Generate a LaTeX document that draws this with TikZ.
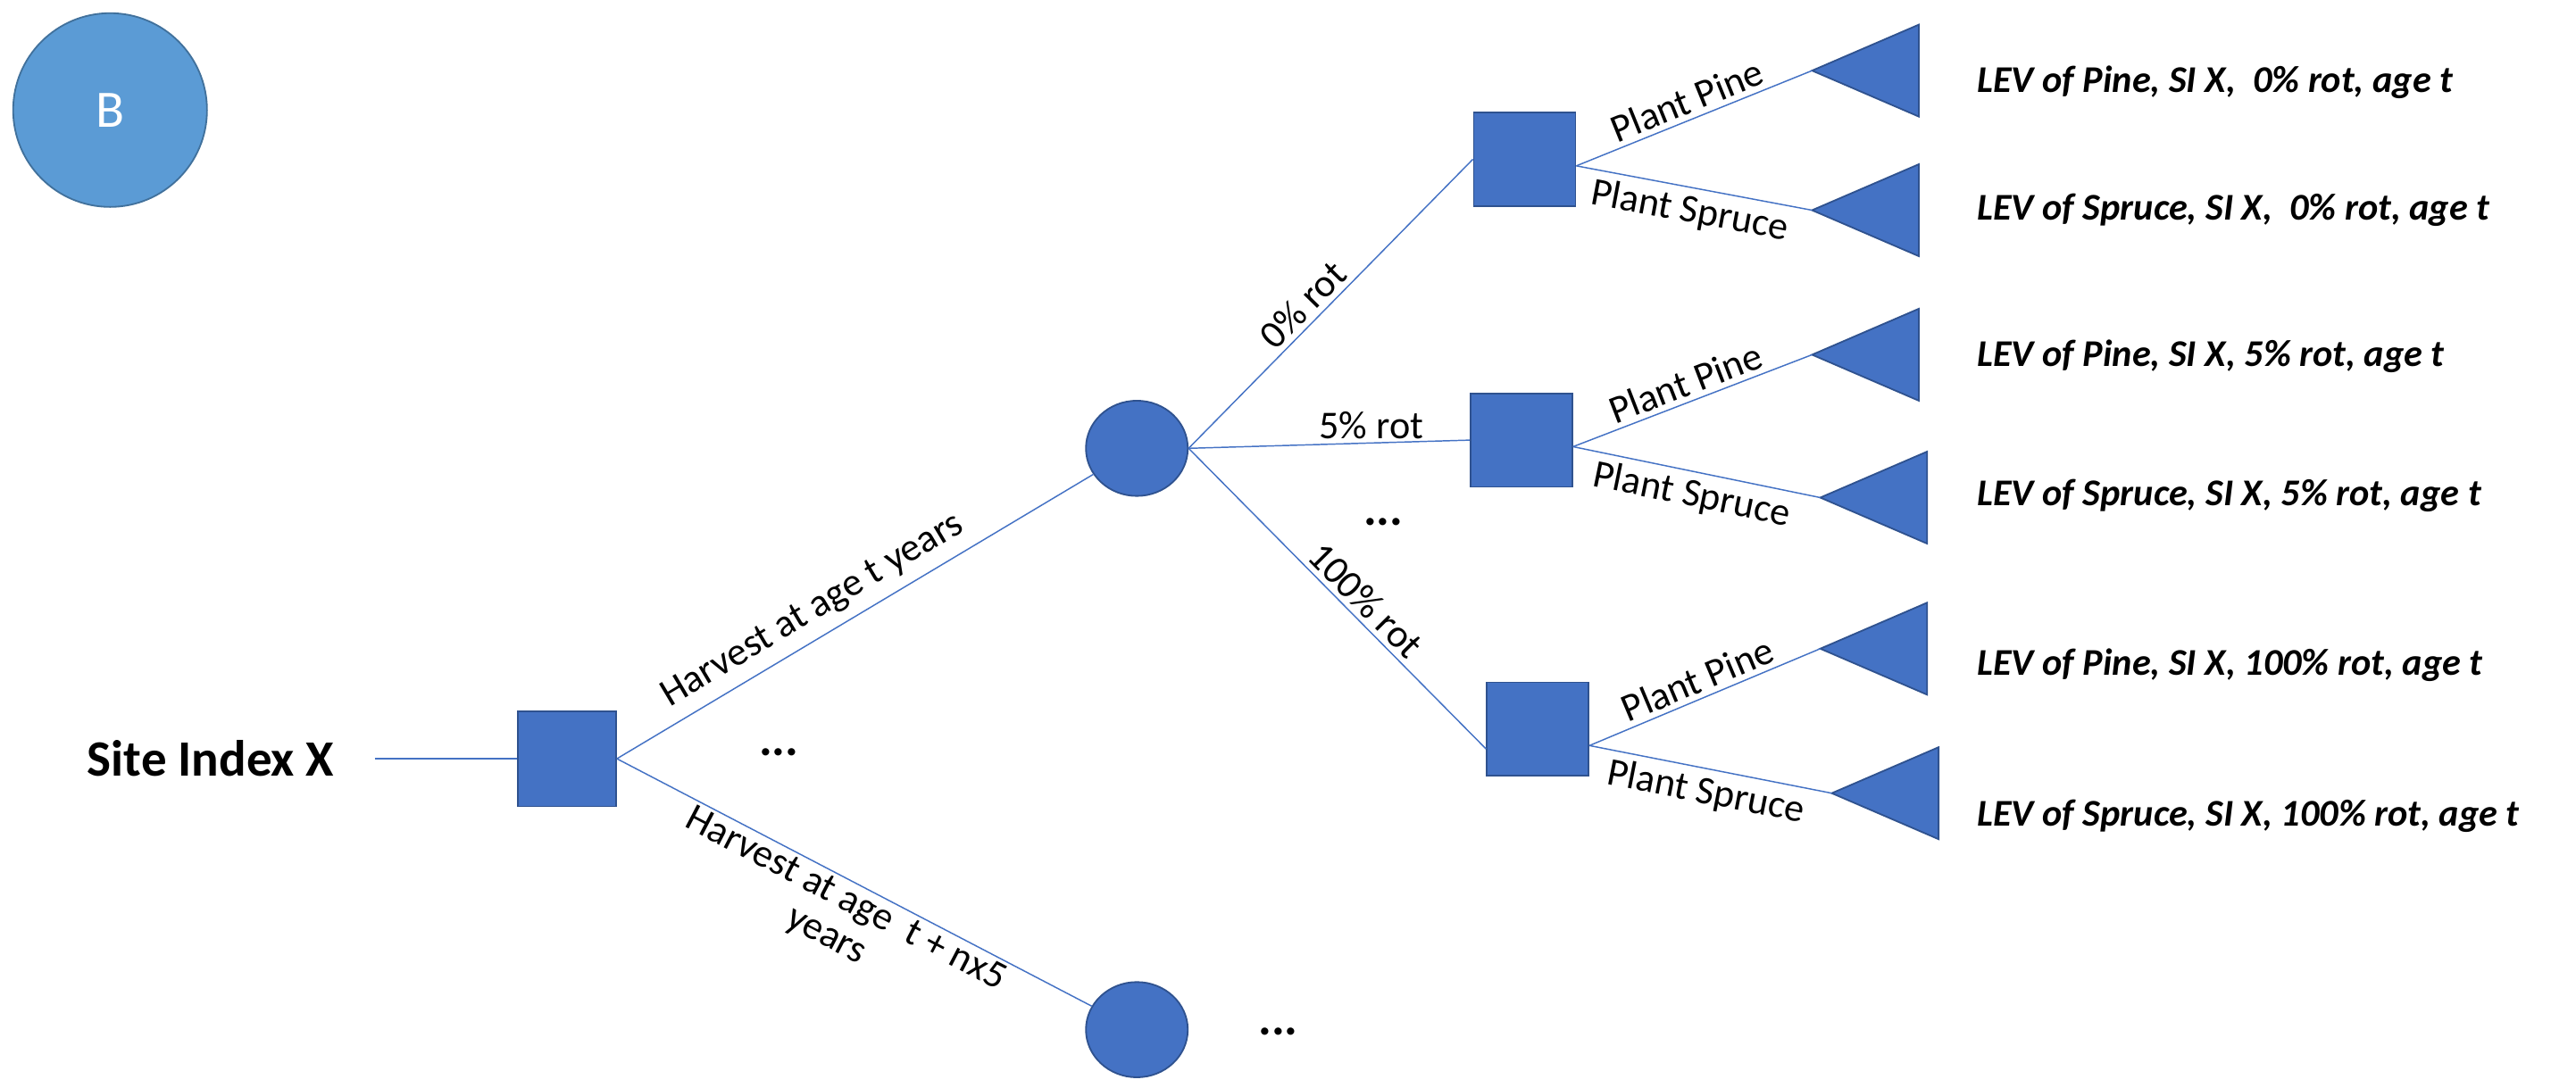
\documentclass[tikz,border=0pt]{standalone}
\usepackage{fontspec}
\setmainfont{Carlito}
\usetikzlibrary{calc,shapes.geometric}
\definecolor{nf}{HTML}{4472C4}
\definecolor{nd}{HTML}{2F528F}
\definecolor{bf}{HTML}{5B9BD5}
\definecolor{bd}{HTML}{41719C}
\begin{document}
\begin{tikzpicture}[x=1pt,y=-1pt,
 sq/.style={draw=nd,fill=nf,line width=1pt,minimum width=62pt,minimum height=57pt,inner sep=0},
 ch/.style={draw=nd,fill=nf,line width=1pt,ellipse,minimum width=62pt,minimum height=58pt,inner sep=0},
 tri/.style={draw=nd,fill=nf,line width=1pt},
 ln/.style={draw=nf,line width=0.8pt},
 lab/.style={font=\fontsize{24}{25}\selectfont,inner sep=3pt},
 lev/.style={font=\fontsize{23}{25}\selectfont\bfseries\itshape,anchor=west},
 dots/.style={font=\fontsize{30}{30}\selectfont\bfseries}]
\useasboundingbox (0,0) rectangle (1568,662);
\node[circle,draw=bd,fill=bf,line width=1pt,minimum size=118pt,text=white,font=\fontsize{32}{34}\selectfont] (B) at (67,67) {B};
\node[font=\fontsize{31}{33}\selectfont\bfseries,anchor=east] (site) at (207,462) {Site Index X};
\coordinate (s0) at (228,462);
\node[sq,minimum width=60pt,minimum height=58pt] (S1) at (345,462) {};
\node[ch] (C1) at (692,273) {};
\node[ch] (C2) at (692,627) {};
\node[sq] (A) at (928,97) {};
\node[sq] (Bq) at (926,268) {};
\node[sq] (Cq) at (936,444) {};
\draw[ln] (s0) -- (S1.west);
\draw[ln] (S1.east) -- (C1) node[lab,sloped,above,pos=0.44,inner sep=6pt] {Harvest at age t years};
\draw[ln] (S1.east) -- (C2) node[lab,sloped,below,pos=0.5,align=center,inner sep=2pt] {Harvest at age\ \ t + nx5\\years};
\node[dots] (d1) at (474,458) {...};
\node[dots] (d2) at (778,628) {...};
\node[dots] (d3) at (842,318) {...};
\draw[ln] (C1.east) -- (A.west) node[lab,sloped,above,pos=0.45] {0\% rot};
\draw[ln] (C1.east) -- (Bq.west) node[lab,above,pos=0.65,inner sep=2pt] {5\% rot};
\draw[ln] (C1.east) -- ($(Cq.west)+(0,12)$) node[lab,sloped,above,pos=0.55] {100\% rot};
\foreach \n/\tx/\ty/\rx in {a1/1103/43/1168, a2/1103/128/1168, b1/1103/216/1168, b2/1108/303/1173, c1/1108/395/1173, c2/1115/483/1180}{
  \coordinate (\n) at (\tx,\ty);
  \draw[tri] (\n) -- (\rx,\ty-28) -- (\rx,\ty+28) -- cycle;
}
\draw[ln] ($(A.east)+(0,4)$) -- (a1) node[lab,sloped,above,pos=0.5] {Plant Pine};
\draw[ln] ($(A.east)+(0,4)$) -- (a2) node[lab,sloped,below,pos=0.5,inner sep=4pt] {Plant Spruce};
\draw[ln] ($(Bq.east)+(0,4)$) -- (b1) node[lab,sloped,above,pos=0.5] {Plant Pine};
\draw[ln] ($(Bq.east)+(0,4)$) -- (b2) node[lab,sloped,below,pos=0.5,inner sep=4pt] {Plant Spruce};
\draw[ln] ($(Cq.east)+(0,10)$) -- (c1) node[lab,sloped,above,pos=0.5] {Plant Pine};
\draw[ln] ($(Cq.east)+(0,10)$) -- (c2) node[lab,sloped,below,pos=0.5,inner sep=4pt] {Plant Spruce};
\node[lev] (l1) at (1200,50) {LEV of Pine, SI X,\ \ 0\% rot, age t};
\node[lev] (l2) at (1200,128) {LEV of Spruce, SI X,\ \ 0\% rot, age t};
\node[lev] (l3) at (1200,217) {LEV of Pine, SI X, 5\% rot, age t};
\node[lev] (l4) at (1200,302) {LEV of Spruce, SI X, 5\% rot, age t};
\node[lev] (l5) at (1200,405) {LEV of Pine, SI X, 100\% rot, age t};
\node[lev] (l6) at (1200,497) {LEV of Spruce, SI X, 100\% rot, age t};
\end{tikzpicture}
\end{document}
